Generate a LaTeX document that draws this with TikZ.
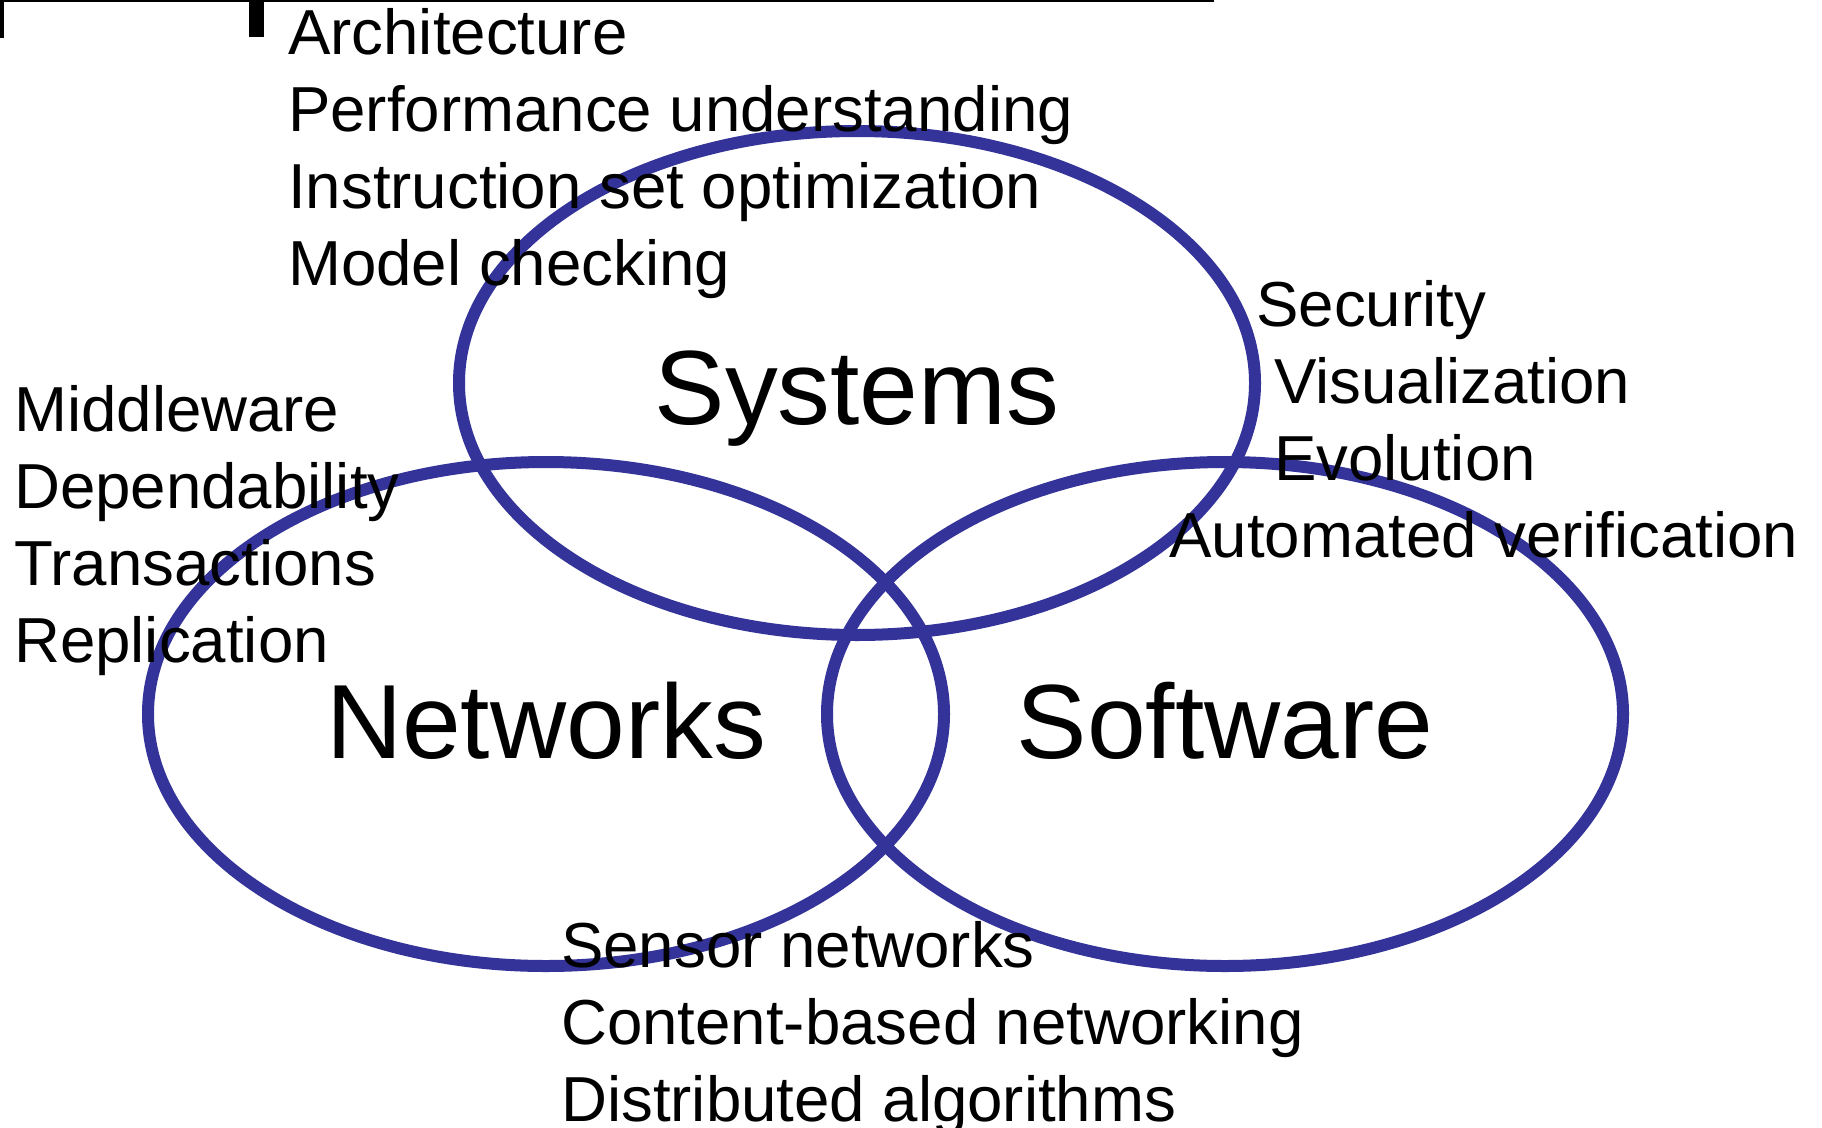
\documentclass[tikz,border=0pt]{standalone}
\usepackage{fontspec}
\setmainfont{Liberation Sans}
\usepackage{tikz}
\usetikzlibrary{positioning}
\definecolor{vennblue}{RGB}{51,51,153}

\begin{document}
\begin{tikzpicture}[x=1pt,y=-1pt,
    venn/.style={draw=vennblue,line width=12pt},
    topic/.style={font=\fontsize{63.6}{77}\selectfont,anchor=base west,inner sep=0pt},
    field/.style={font=\fontsize{105.5}{127}\selectfont,anchor=base,inner sep=0pt}]
      \useasboundingbox (0,0) rectangle (1822,1127);

      \coordinate (sys) at (857,383);
      \coordinate (net) at (546,714);
      \coordinate (sw) at (1225,714);

      % slide ruler left over at the top
      \draw[line width=2pt] (0,1) -- (1214,1);
      \draw[line width=4pt] (2,0) -- (2,38);
      \fill (249,0) rectangle (264,37);

      \draw[venn] (sys) ellipse [x radius=398pt, y radius=252pt];
      \draw[venn] (net) ellipse [x radius=398pt, y radius=252pt];
      \draw[venn] (sw) ellipse [x radius=398pt, y radius=252pt];

      \node[field] (sysn) at (857,424) {Systems};
      \node[field] (netn) at (546,758) {Networks};
      \node[field] (swn) at (1225,758) {Software};

      % topics above
      \node[topic] (arch) at (288,54) {Architecture};
      \node[topic] (perf) at (288,131) {Performance understanding};
      \node[topic] (instr) at (288,208) {Instruction set optimization};
      \node[topic] (model) at (288,285) {Model checking};

      % topics left
      \node[topic] (middle) at (14,431) {Middleware};
      \node[topic] (depend) at (14,508) {Dependability};
      \node[topic] (trans) at (14,585) {Transactions};
      \node[topic] (repl) at (14,662) {Replication};

      % topics right
      \node[topic] (sec) at (1256,326) {Security};
      \node[topic] (vis) at (1274,403) {Visualization};
      \node[topic] (evol) at (1274,480) {Evolution};
      \node[topic] (auto) at (1169,557) {Automated verification};

      % topics below
      \node[topic] (sensor) at (561,967) {Sensor networks};
      \node[topic] (content) at (561,1044) {Content-based networking};
      \node[topic] (distr) at (561,1121) {Distributed algorithms};
\end{tikzpicture}
\end{document}
